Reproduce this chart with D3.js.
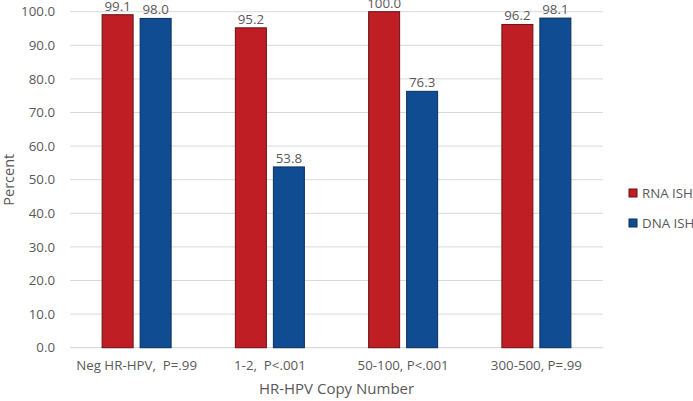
<!DOCTYPE html>
<html><head><meta charset="utf-8">
<script src="https://cdn.jsdelivr.net/npm/d3@7"></script>
<style>body{margin:0;background:#fff}svg{display:block}text{font-family:"Open Sans","Noto Sans",sans-serif;fill:#595959;white-space:pre}</style>
</head><body><svg id="c" width="693" height="401"></svg>
<script>
const categories = ["Neg HR-HPV,  P=.99", "1-2,  P<.001", "50-100, P<.001", "300-500, P=.99"];
const seriesNames = ["RNA ISH", "DNA ISH"];
const rnaValues = [99.1, 95.2, 100.0, 96.2];
const dnaValues = [98.0, 53.8, 76.3, 98.1];
const yTicks = [0, 10, 20, 30, 40, 50, 60, 70, 80, 90, 100];
const colors = ["#be1e24", "#0f4c92"];
const strokes = ["#6b1014", "#0a2f5c"];

const svg = d3.select("#c");
const m = {l: 70, r: 90, t: 11.7, b: 53.3};
const W = 693, H = 401;
const FONT = '"Open Sans","Noto Sans",sans-serif';
const x = d3.scaleBand().domain(categories).range([m.l, W - m.r]).paddingInner(0).paddingOuter(0);
const y = d3.scaleLinear().domain([0, 100]).range([H - m.b, m.t]);

svg.append("g").selectAll("line").data(yTicks).join("line")
  .attr("x1", m.l).attr("x2", W - m.r)
  .attr("y1", d => y(d)).attr("y2", d => y(d))
  .attr("stroke", d => d === 0 ? "#d0d0d0" : "#d9d9d9").attr("stroke-width", 1);

const yAxis = d3.axisLeft(y).tickValues(yTicks).tickFormat(d3.format(".1f")).tickSize(0).tickPadding(15);
const ya = svg.append("g").attr("transform", `translate(${m.l},0)`).call(yAxis);
ya.select(".domain").remove();
ya.selectAll("text").attr("font-size", 13.3).style("font-family", FONT).attr("fill", "#595959");

const xAxis = d3.axisBottom(x).tickSize(0).tickPadding(13);
const xa = svg.append("g").attr("transform", `translate(0,${y(0)})`).call(xAxis);
xa.select(".domain").remove();
xa.selectAll("text").attr("font-size", 13.3).style("font-family", FONT).style("white-space", "pre").attr("fill", "#595959");

const bw = 31, gap = 7;
const series = [rnaValues, dnaValues];
series.forEach((vals, si) => {
  const g = svg.append("g");
  const xpos = (c) => x(c) + x.bandwidth() / 2 + (si === 0 ? -gap / 2 - bw : gap / 2);
  g.selectAll("rect").data(categories).join("rect")
    .attr("x", (c) => xpos(c))
    .attr("y", (c, i) => y(vals[i]))
    .attr("width", bw)
    .attr("height", (c, i) => y(0) - y(vals[i]))
    .attr("fill", colors[si]).attr("stroke", strokes[si]).attr("stroke-width", 1);
  g.selectAll("text").data(categories).join("text")
    .attr("x", (c) => xpos(c) + bw / 2)
    .attr("y", (c, i) => y(vals[i]) - 4)
    .attr("text-anchor", "middle").attr("font-size", 13.3)
    .text((c, i) => vals[i].toFixed(1));
});

svg.append("text").attr("x", (m.l + W - m.r) / 2).attr("y", 394).attr("text-anchor", "middle")
  .attr("font-size", 15).text("HR-HPV Copy Number");
svg.append("text").attr("transform", `translate(14,${(y(0) + y(100)) / 2}) rotate(-90)`)
  .attr("text-anchor", "middle").attr("font-size", 14.5).text("Percent");

const lg = svg.append("g");
seriesNames.forEach((n, i) => {
  lg.append("rect").attr("x", 629).attr("y", 189 + i * 30).attr("width", 8).attr("height", 8)
    .attr("fill", colors[i]).attr("stroke", strokes[i]);
  lg.append("text").attr("x", 642).attr("y", 197.5 + i * 30).attr("font-size", 13.3).text(n);
});
</script></body></html>
